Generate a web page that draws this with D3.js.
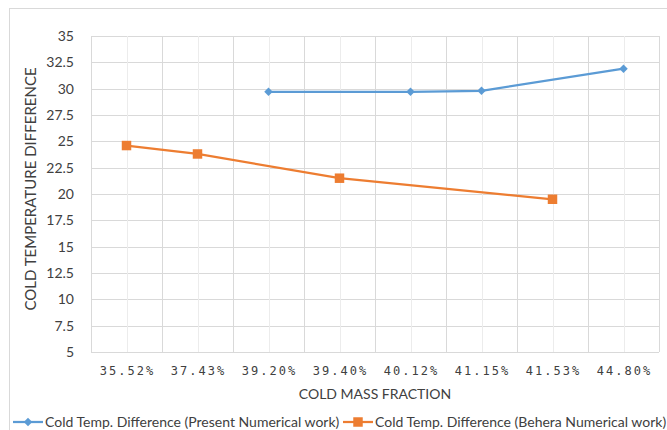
<!DOCTYPE html>
<html>
<head>
<meta charset="utf-8">
<script src="https://cdn.jsdelivr.net/npm/d3@7"></script>
<style>
  html, body { margin: 0; padding: 0; background: #fff; }
  svg { display: block; }
</style>
</head>
<body>
<svg id="chart" width="667" height="430"></svg>
<script>
// Cold mass fraction categories and the two series of cold temperature difference
const categories = ["35.52%", "37.43%", "39.20%", "39.40%", "40.12%", "41.15%", "41.53%", "44.80%"];
const presentWork = [null, null, 29.7, null, 29.7, 29.8, null, 31.9];
const beheraWork = [24.6, 23.8, null, 21.5, null, null, 19.5, null];
const yTicks = [5, 7.5, 10, 12.5, 15, 17.5, 20, 22.5, 25, 27.5, 30, 32.5, 35];
const seriesNames = [
  "Cold Temp. Difference (Present Numerical work)",
  "Cold Temp. Difference (Behera Numerical work)"
];

const svg = d3.select("#chart");
const W = 667, H = 430;
const plot = { left: 91, right: 659, top: 36, bottom: 352 };
const sansFont = "Lato, 'Open Sans', sans-serif";

// outer chart frame (left and top edges visible)
svg.append("rect")
  .attr("x", 9.5).attr("y", 8.5)
  .attr("width", W).attr("height", H)
  .attr("fill", "#fff").attr("stroke", "#d9d9d9").attr("stroke-width", 1);

const x = d3.scaleBand().domain(categories).range([plot.left, plot.right]);
const y = d3.scaleLinear().domain([5, 35]).range([plot.bottom, plot.top]);

// horizontal gridlines
svg.append("g").selectAll("line").data(yTicks).join("line")
  .attr("x1", plot.left).attr("x2", plot.right)
  .attr("y1", d => Math.round(y(d)) + 0.5).attr("y2", d => Math.round(y(d)) + 0.5)
  .attr("stroke", "#d9d9d9").attr("stroke-width", 1);

// light vertical gridlines at category centres
svg.append("g").selectAll("line").data(categories).join("line")
  .attr("x1", d => Math.round(x(d) + x.bandwidth() / 2) + 0.5)
  .attr("x2", d => Math.round(x(d) + x.bandwidth() / 2) + 0.5)
  .attr("y1", plot.top).attr("y2", plot.bottom)
  .attr("stroke", "#ececec").attr("stroke-width", 1);

// vertical gridlines at category boundaries
const bounds = categories.map(c => x(c)).concat([plot.right]);
svg.append("g").selectAll("line").data(bounds).join("line")
  .attr("x1", d => Math.round(d) + 0.5).attr("x2", d => Math.round(d) + 0.5)
  .attr("y1", plot.top).attr("y2", plot.bottom)
  .attr("stroke", "#d9d9d9").attr("stroke-width", 1);

// y axis tick labels
const yAxis = d3.axisLeft(y).tickValues(yTicks).tickSize(0).tickPadding(0)
  .tickFormat(d => String(d));
const gy = svg.append("g").attr("transform", `translate(${plot.left - 17},0)`).call(yAxis);
gy.select(".domain").remove();
gy.selectAll("text")
  .attr("font-family", sansFont).attr("font-size", 14).attr("fill", "#404040");

// x axis tick labels
const xAxis = d3.axisBottom(x).tickSize(0).tickPadding(0);
const gx = svg.append("g").attr("transform", `translate(0,${plot.bottom + 14})`).call(xAxis);
gx.select(".domain").remove();
gx.selectAll("text")
  .attr("font-family", "'DejaVu Sans Mono', monospace")
  .attr("font-size", 12).attr("letter-spacing", "2px")
  .attr("fill", "#404040")
  .attr("dx", "1px");

// axis titles
svg.append("text")
  .attr("x", (plot.left + plot.right) / 2).attr("y", 399)
  .attr("text-anchor", "middle")
  .attr("font-family", sansFont).attr("font-size", 14).attr("fill", "#404040")
  .text("COLD MASS FRACTION");

svg.append("text")
  .attr("transform", `translate(36,189) rotate(-90)`)
  .attr("text-anchor", "middle")
  .attr("font-family", sansFont).attr("font-size", 15).attr("fill", "#404040")
  .text("COLD TEMPERATURE DIFFERENCE");

const cx = d => x(d) + x.bandwidth() / 2;

function drawSeries(values, color, diamond, size) {
  const pts = categories.map((c, i) => ({ c, v: values[i] })).filter(p => p.v !== null);
  const line = d3.line().x(p => cx(p.c)).y(p => y(p.v));
  svg.append("path").datum(pts)
    .attr("d", line).attr("fill", "none")
    .attr("stroke", color).attr("stroke-width", 2.25);
  svg.append("g").selectAll("path").data(pts).join("path")
    .attr("transform", p => `translate(${cx(p.c)},${y(p.v)})` + (diamond ? " rotate(45)" : ""))
    .attr("d", d3.symbol().type(d3.symbolSquare).size(size))
    .attr("fill", color);
}

drawSeries(presentWork, "#5b9bd5", true, 36);
drawSeries(beheraWork, "#ed7d31", false, 90);

// legend
const legend = [
  { name: seriesNames[0], color: "#5b9bd5", x: 13, diamond: true, size: 36 },
  { name: seriesNames[1], color: "#ed7d31", x: 343, diamond: false, size: 90 }
];
const ly = 422;
legend.forEach(l => {
  const g = svg.append("g");
  g.append("line")
    .attr("x1", l.x).attr("x2", l.x + 30).attr("y1", ly).attr("y2", ly)
    .attr("stroke", l.color).attr("stroke-width", 2.25);
  g.append("path")
    .attr("transform", `translate(${l.x + 15},${ly})` + (l.diamond ? " rotate(45)" : ""))
    .attr("d", d3.symbol().type(d3.symbolSquare).size(l.size))
    .attr("fill", l.color);
  g.append("text")
    .attr("x", l.x + 32).attr("y", ly + 5)
    .attr("font-family", sansFont).attr("font-size", 14).attr("fill", "#404040")
    .text(l.name);
});
</script>
</body>
</html>
